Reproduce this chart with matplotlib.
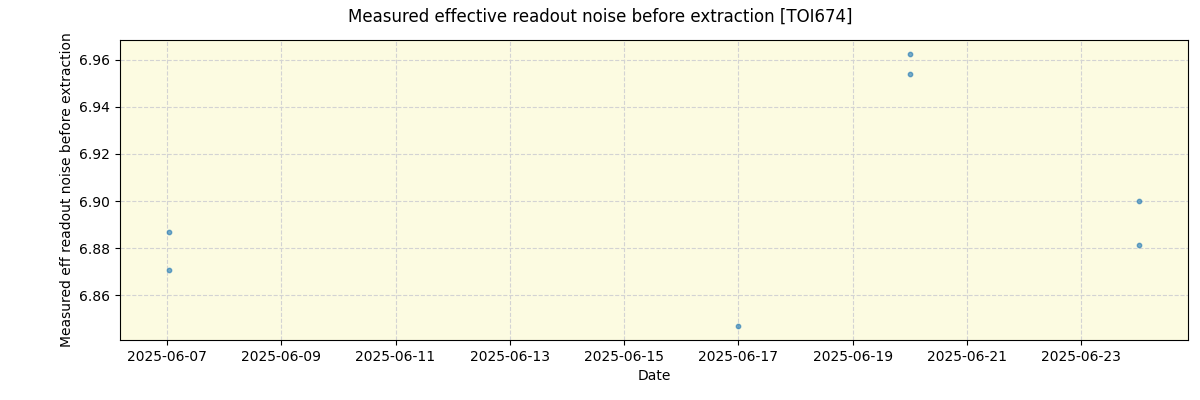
import numpy as np
import pandas as pd
import matplotlib
matplotlib.use("Agg")
import matplotlib.pyplot as plt

# observation times and measured noise values
dates = pd.to_datetime([
    "2025-06-07 00:40", "2025-06-07 00:40",
    "2025-06-17 00:00",
    "2025-06-20 00:00", "2025-06-20 00:00",
    "2025-06-24 00:25", "2025-06-24 00:25",
])
noise = [6.8868, 6.8706, 6.8468, 6.9626, 6.9540, 6.9000, 6.8813]

fig = plt.figure(figsize=(12, 4), dpi=100)
ax = fig.add_axes([0.1, 0.15, 0.89, 0.75])
ax.set_facecolor("#fcfbe1")
ax.scatter(dates, noise, s=10, color="tab:blue", alpha=0.6, zorder=3)
ax.grid(True, linestyle="--", color="#d3d3d3", linewidth=0.8)
ax.set_axisbelow(True)

ticks = pd.date_range("2025-06-07", "2025-06-23", freq="2D")
ax.set_xticks(ticks)
ax.set_xticklabels([t.strftime("%Y-%m-%d") for t in ticks])

ax.set_xlabel("Date")
ax.set_ylabel("Measured eff readout noise before extraction")
fig.suptitle("Measured effective readout noise before extraction [TOI674]", y=0.98)

fig.savefig("out.png")
